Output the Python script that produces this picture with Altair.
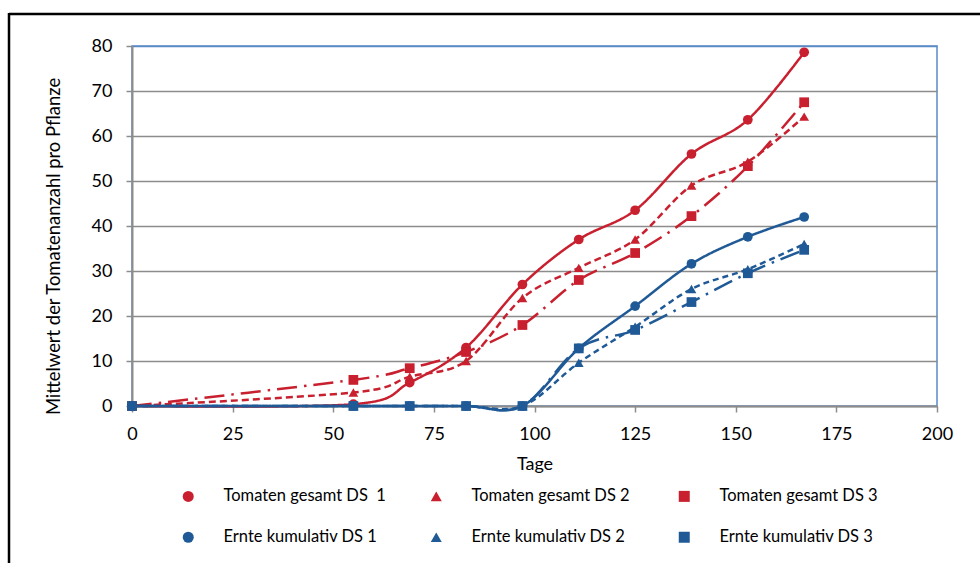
import altair as alt
import pandas as pd

# ---- data ----
tage = [0, 55, 69, 83, 97, 111, 125, 139, 153, 167]
tomaten_ds1 = [0, 0.4, 5.2, 13.0, 27.0, 37.0, 43.5, 56.0, 63.6, 78.6]
tomaten_ds2 = [0, 3.0, 6.5, 10.0, 24.0, 30.7, 37.0, 49.0, 54.3, 64.3]
tomaten_ds3 = [0, 5.8, 8.4, 12.0, 18.0, 28.0, 34.0, 42.2, 53.3, 67.5]
ernte_ds1 = [0, 0, 0, 0, 0, 12.8, 22.2, 31.6, 37.6, 42.0]
ernte_ds2 = [0, 0, 0, 0, 0, 9.6, 17.6, 26.0, 30.4, 36.0]
ernte_ds3 = [0, 0, 0, 0, 0, 12.8, 16.9, 23.1, 29.5, 34.7]

series_names = [
    "Tomaten gesamt DS\u00a0 1",
    "Tomaten gesamt DS 2",
    "Tomaten gesamt DS 3",
    "Ernte kumulativ DS 1",
    "Ernte kumulativ DS 2",
    "Ernte kumulativ DS 3",
]
series_values = [tomaten_ds1, tomaten_ds2, tomaten_ds3, ernte_ds1, ernte_ds2, ernte_ds3]

x_ticks = [0, 25, 50, 75, 100, 125, 150, 175, 200]
y_ticks = [0, 10, 20, 30, 40, 50, 60, 70, 80]

RED = "#C8202F"
BLUE = "#1F5A96"
colors = [RED, RED, RED, BLUE, BLUE, BLUE]
dashes = [[1, 0], [7, 4], [20, 7, 2.5, 7], [1, 0], [6, 4], [20, 7, 2.5, 7]]
shapes = ["circle", "triangle-up", "square", "circle", "triangle-up", "square"]

rows = []
for name, vals in zip(series_names, series_values):
    for t, v in zip(tage, vals):
        rows.append({"Tage": t, "Wert": v, "Serie": name, "Linie": name, "Form": name})
df = pd.DataFrame(rows)

FONT = "Lato"
GRID = "#8C8C8C"
FRAME_BLUE = "#5A8AC6"

x_enc = alt.X(
    "Tage:Q",
    scale=alt.Scale(domain=[0, 200], nice=False),
    axis=alt.Axis(
        values=x_ticks, title="Tage", grid=False, tickSize=6, tickColor=GRID,
        domainColor=GRID, domainWidth=2, tickWidth=1.5, labelFontSize=18,
        labelPadding=13, labelColor="black", labelFont=FONT, labelFlush=False,
        titleFont=FONT, titleFontSize=18, titleFontWeight="normal",
        titleColor="black", titleY=58, titleBaseline="middle",
    ),
)
y_enc = alt.Y(
    "Wert:Q",
    scale=alt.Scale(domain=[0, 80], nice=False),
    axis=alt.Axis(
        values=y_ticks, title="Mittelwert der Tomatenanzahl pro Pflanze",
        grid=True, gridWidth=1.5,
        gridColor={"condition": {"test": "datum.value === 80", "value": FRAME_BLUE}, "value": GRID},
        tickSize=6, tickColor=GRID, tickWidth=1.5, domainColor=GRID, domainWidth=2,
        labelFontSize=18, labelPadding=14, labelColor="black", labelFont=FONT, labelFlush=False,
        titleFont=FONT, titleFontSize=18.4, titleFontWeight="normal", titleColor="black",
        titleX=-79, titleY=200, titleBaseline="middle", titleAngle=270,
    ),
)


# legend glyphs: filled path = line segment (solid / dashed) + marker
def seg(parts, h=0.25):
    return "".join(f"M{a},{-h}H{b}V{h}H{a}Z" for a, b in parts)


CIRC = seg([(-5.4, 5.4)]) + "M1,0A1,1 0 1,1 -1,0A1,1 0 1,1 1,0Z"
TRI = seg([(-5.4, -4.0), (-3.3, -1.9), (-1.2, 1.2), (1.9, 3.3), (4.0, 5.4)]) + "M0,-1.1L1.2,0.9L-1.2,0.9Z"
SQ = seg([(-5.4, 0), (1.8, 2.2), (3.6, 5.4)]) + "M-0.95,-0.95H0.95V0.95H-0.95Z"

kind = "slice(datum.value, -1)"
is_tom = "indexof(datum.value, 'Tomaten') >= 0"
legend = alt.Legend(
    orient="none", legendX=48, legendY=442, columns=3, direction="horizontal", title=None,
    labelFont=FONT, labelFontSize=16.5, labelColor="black", labelOffset=27, labelLimit=400,
    columnPadding=42, rowPadding=24, gridAlign="all", symbolSize=121,
    symbolType=alt.ExprRef(expr=f"{kind} === '1' ? '{CIRC}' : ({kind} === '2' ? '{TRI}' : '{SQ}')"),
    symbolFillColor=alt.ExprRef(expr=f"{is_tom} ? '{RED}' : '{BLUE}'"),
    symbolStrokeWidth=0, symbolOpacity=1,
)

color_scale = alt.Scale(domain=series_names, range=colors)

lines = alt.Chart(df).mark_line(interpolate="cardinal", strokeWidth=2.5, clip=False).encode(
    x=x_enc, y=y_enc,
    color=alt.Color("Serie:N", scale=color_scale, legend=legend),
    strokeDash=alt.StrokeDash("Linie:N", scale=alt.Scale(domain=series_names, range=dashes), legend=None),
)
points = alt.Chart(df).mark_point(filled=True, size=95, opacity=1, clip=False).encode(
    x="Tage:Q", y="Wert:Q",
    color=alt.Color("Form:N", scale=color_scale, legend=None),
    shape=alt.Shape("Form:N", scale=alt.Scale(domain=series_names, range=shapes), legend=None),
)

one = pd.DataFrame({"k": [0]})
frame_top = alt.Chart(one).mark_rule(color="black", strokeWidth=2.5, clip=False).encode(
    x=alt.value(-123), x2=alt.value(860), y=alt.value(-32)
)
frame_left = alt.Chart(one).mark_rule(color="black", strokeWidth=2.5, clip=False).encode(
    x=alt.value(-123), y=alt.value(-33), y2=alt.value(530)
)

chart = (
    alt.layer(lines, points, frame_top, frame_left)
    .properties(
        width=805, height=360,
        autosize=alt.AutoSizeParams(type="none"),
        padding={"left": 132, "top": 46, "right": 43, "bottom": 157},
        background="white",
    )
    .configure_view(stroke=FRAME_BLUE, strokeWidth=1.5)
)

chart.save("out.html", embed_options={"renderer": "svg", "actions": False})
